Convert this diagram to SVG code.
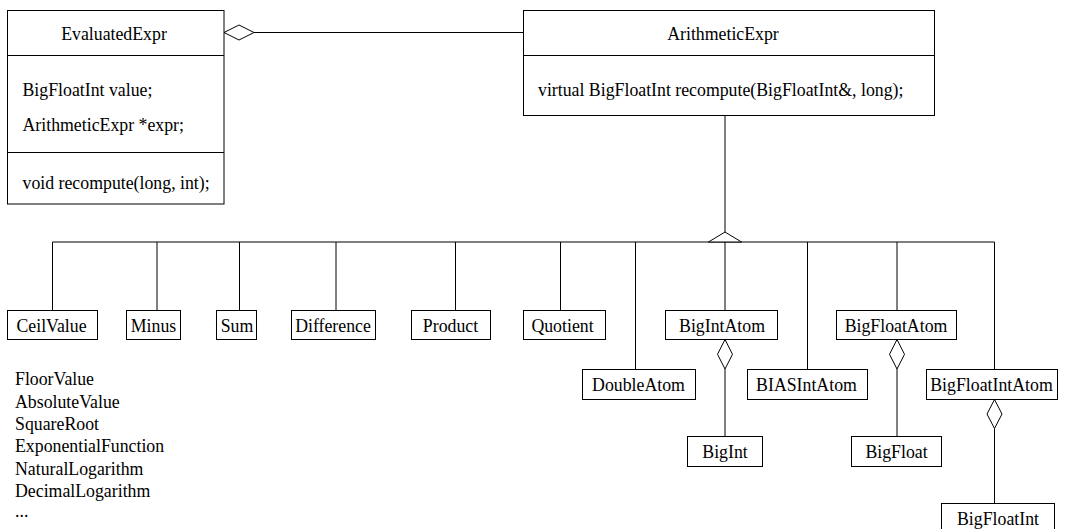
<svg xmlns="http://www.w3.org/2000/svg" width="1066" height="529" viewBox="0 0 1066 529">
<style>
  .box { fill: #fff; stroke: #000; stroke-width: 1; }
  .ln { fill: none; stroke: #000; stroke-width: 1; }
  .dia { fill: #fff; stroke: #000; stroke-width: 1; }
  text { font-family: "Liberation Serif", "Times New Roman", serif; font-size: 17.8px; fill: #000; }
  .c { text-anchor: middle; }
</style>
<rect width="1066" height="529" fill="#fff"/>

<g id="connectors">
  <!-- aggregation EvaluatedExpr -> ArithmeticExpr -->
  <line class="ln" x1="254" y1="32.5" x2="523.5" y2="32.5"/>
  <polygon class="dia" points="224,32.5 239,25 254,32.5 239,40"/>
  <!-- inheritance trunk and bus -->
  <line class="ln" x1="725" y1="115.5" x2="725" y2="310.5"/>
  <line class="ln" x1="52.5" y1="242" x2="994.5" y2="242"/>
  <polygon class="dia" points="708.5,242 725,232 741.5,242"/>
  <line class="ln" x1="52.5" y1="242" x2="52.5" y2="310.5"/>
  <line class="ln" x1="157" y1="242" x2="157" y2="310.5"/>
  <line class="ln" x1="239.5" y1="242" x2="239.5" y2="310.5"/>
  <line class="ln" x1="336" y1="242" x2="336" y2="310.5"/>
  <line class="ln" x1="455.5" y1="242" x2="455.5" y2="310.5"/>
  <line class="ln" x1="560.5" y1="242" x2="560.5" y2="310.5"/>
  <line class="ln" x1="635.5" y1="242" x2="635.5" y2="369.5"/>
  <line class="ln" x1="807.5" y1="242" x2="807.5" y2="369.5"/>
  <line class="ln" x1="897" y1="242" x2="897" y2="310.5"/>
  <line class="ln" x1="994.5" y1="242" x2="994.5" y2="369.5"/>
  <!-- aggregations to atoms' values -->
  <line class="ln" x1="725" y1="369" x2="725" y2="436.5"/>
  <polygon class="dia" points="725,339.5 732.5,354.3 725,369 717.5,354.3"/>
  <line class="ln" x1="897" y1="369" x2="897" y2="436.5"/>
  <polygon class="dia" points="897,339.5 904.5,354.3 897,369 889.5,354.3"/>
  <line class="ln" x1="994.5" y1="428.5" x2="994.5" y2="503.5"/>
  <polygon class="dia" points="994.5,399.5 1002,414 994.5,428.5 987,414"/>
</g>

<g id="EvaluatedExpr">
  <rect class="box" x="7.5" y="10.5" width="216.5" height="193.5"/>
  <line class="ln" x1="7.5" y1="55.5" x2="224" y2="55.5"/>
  <line class="ln" x1="7.5" y1="152.5" x2="224" y2="152.5"/>
  <text class="c" x="114" y="40">EvaluatedExpr</text>
  <text x="22.5" y="95.5">BigFloatInt value;</text>
  <text x="22.5" y="131">ArithmeticExpr *expr;</text>
  <text x="22.5" y="189">void recompute(long, int);</text>
</g>

<g id="ArithmeticExpr">
  <rect class="box" x="523.5" y="10.5" width="411" height="105"/>
  <line class="ln" x1="523.5" y1="55.5" x2="934.5" y2="55.5"/>
  <text class="c" x="723" y="40">ArithmeticExpr</text>
  <text x="538" y="95.5">virtual BigFloatInt recompute(BigFloatInt&amp;, long);</text>
</g>

<g id="CeilValue">
  <rect class="box" x="7.5" y="310.5" width="90" height="29"/>
  <text class="c" x="51.5" y="331.5">CeilValue</text>
</g>
<g id="Minus">
  <rect class="box" x="126.5" y="310.5" width="54" height="29"/>
  <text class="c" x="153.5" y="331.5">Minus</text>
</g>
<g id="Sum">
  <rect class="box" x="216.5" y="310.5" width="40" height="29"/>
  <text class="c" x="237" y="331.5">Sum</text>
</g>
<g id="Difference">
  <rect class="box" x="291.5" y="310.5" width="84" height="29"/>
  <text class="c" x="333" y="331.5">Difference</text>
</g>
<g id="Product">
  <rect class="box" x="411.5" y="310.5" width="79" height="29"/>
  <text class="c" x="450.5" y="331.5">Product</text>
</g>
<g id="Quotient">
  <rect class="box" x="523.5" y="310.5" width="82" height="29"/>
  <text class="c" x="562.5" y="331.5">Quotient</text>
</g>
<g id="BigIntAtom">
  <rect class="box" x="665.5" y="310.5" width="112" height="29"/>
  <text class="c" x="722" y="331.5">BigIntAtom</text>
</g>
<g id="BigFloatAtom">
  <rect class="box" x="836.5" y="310.5" width="120" height="29"/>
  <text class="c" x="896" y="331.5">BigFloatAtom</text>
</g>
<g id="DoubleAtom">
  <rect class="box" x="582.5" y="369.5" width="113" height="30"/>
  <text class="c" x="638.5" y="391">DoubleAtom</text>
</g>
<g id="BIASIntAtom">
  <rect class="box" x="747.5" y="369.5" width="120" height="30"/>
  <text class="c" x="806.5" y="391">BIASIntAtom</text>
</g>
<g id="BigFloatIntAtom">
  <rect class="box" x="926.5" y="369.5" width="131" height="30"/>
  <text class="c" x="991.5" y="391">BigFloatIntAtom</text>
</g>
<g id="BigInt">
  <rect class="box" x="687.5" y="436.5" width="75" height="30"/>
  <text class="c" x="725" y="458">BigInt</text>
</g>
<g id="BigFloat">
  <rect class="box" x="851.5" y="436.5" width="90" height="30"/>
  <text class="c" x="896.5" y="458">BigFloat</text>
</g>
<g id="BigFloatInt">
  <rect class="box" x="941.5" y="503.5" width="113" height="30"/>
  <text class="c" x="998" y="525">BigFloatInt</text>
</g>

<g id="OtherSubclasses">
  <text x="15" y="385">FloorValue</text>
  <text x="15" y="407.5">AbsoluteValue</text>
  <text x="15" y="429.5">SquareRoot</text>
  <text x="15" y="452">ExponentialFunction</text>
  <text x="15" y="474.5">NaturalLogarithm</text>
  <text x="15" y="496.5">DecimalLogarithm</text>
  <text x="15" y="517">...</text>
</g>
</svg>
